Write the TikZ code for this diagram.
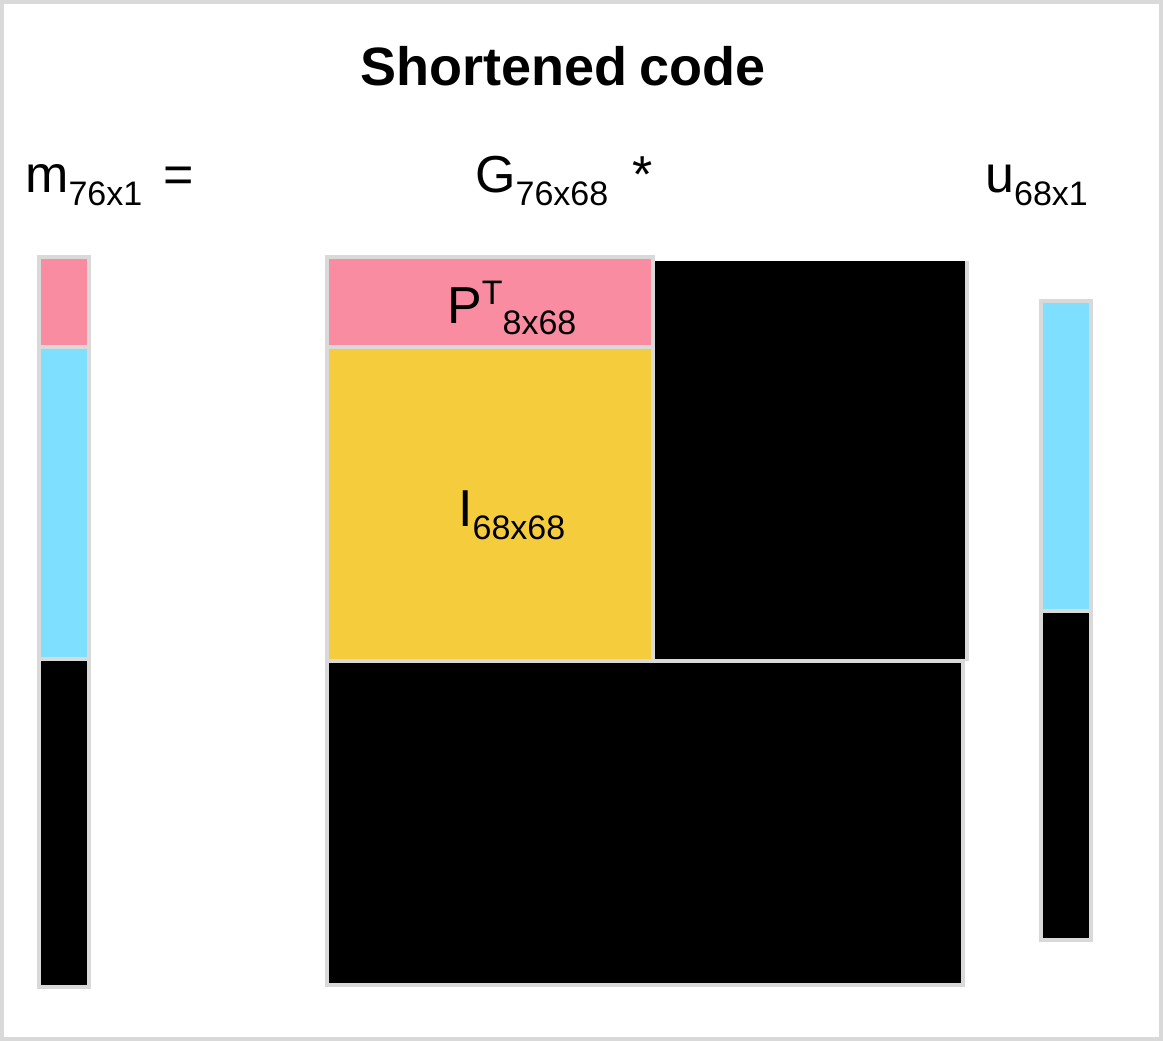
\documentclass[tikz,border=0pt]{standalone}
\usepackage{fontspec}
\setmainfont{Liberation Sans}
\definecolor{framegray}{HTML}{D9D9D9}
\definecolor{parpink}{HTML}{F98CA1}
\definecolor{msgcyan}{HTML}{7FDFFF}
\definecolor{idyellow}{HTML}{F5CD3C}
% main symbol with a lowered dimension subscript
\newcommand{\dimlbl}[2]{#1\raisebox{-13pt}{\fontsize{34}{40}\selectfont #2}}
\begin{document}
\begin{tikzpicture}[x=1pt,y=-1pt,
  block/.style={draw=framegray,line width=4pt,anchor=north west,inner sep=0pt,outer sep=0pt},
  solid block/.style={anchor=north west,inner sep=0pt,outer sep=0pt,fill=black},
  lbl/.style={inner sep=0pt,anchor=base west,font=\fontsize{52}{60}\selectfont}]
\useasboundingbox (0,0) rectangle (1163,1041);
\fill[white] (0,0) rectangle (1163,1041);
\draw[framegray,line width=4pt] (2,2) rectangle (1161,1039);

% title
\node[inner sep=0pt,anchor=base,font=\fontsize{54}{62}\selectfont\bfseries] (title) at (563,85) {Shortened\hspace{-3pt} code};

% equation labels
\node[lbl] (mlbl) at (25,192) {\dimlbl{m}{76x1}};
\node[lbl] (eq) at (163,192) {=};
\node[lbl] (glbl) at (475,192) {\dimlbl{G}{76x68}};
\node[lbl] (star) at (632,192) {*};
\node[lbl] (ulbl) at (985,192) {\dimlbl{u}{68x1}};

% codeword vector m
\node[block,fill=parpink,minimum width=50pt,minimum height=90pt] (mpar) at (39,257) {};
\node[block,fill=msgcyan,minimum width=50pt,minimum height=312pt] (mmsg) at (39,347) {};
\node[block,fill=black,minimum width=50pt,minimum height=328pt] (mzero) at (39,659) {};

% generator matrix G
\node[solid block,minimum width=310pt,minimum height=398pt] (gtr) at (655,261) {};
\draw[framegray,line width=4pt] (gtr.north east) ++(2,0) -- ++(0,400);
\node[block,fill=black,minimum width=636pt,minimum height=324pt] (gbot) at (327,661) {};
\node[block,fill=parpink,minimum width=326pt,minimum height=90pt] (gpar) at (327,257) {};
\node[block,fill=idyellow,minimum width=326pt,minimum height=314pt] (gid) at (327,347) {};

\node[lbl] (plbl) at (447,323) {P\raisebox{19pt}{\fontsize{34}{40}\selectfont T}\raisebox{-11pt}{\fontsize{34}{40}\selectfont 8x68}};
\node[lbl] (ilbl) at (458,526) {\dimlbl{I}{68x68}};

% message vector u
\node[block,fill=msgcyan,minimum width=50pt,minimum height=310pt] (umsg) at (1041,301) {};
\node[block,fill=black,minimum width=50pt,minimum height=329pt] (uzero) at (1041,611) {};
\end{tikzpicture}
\end{document}
